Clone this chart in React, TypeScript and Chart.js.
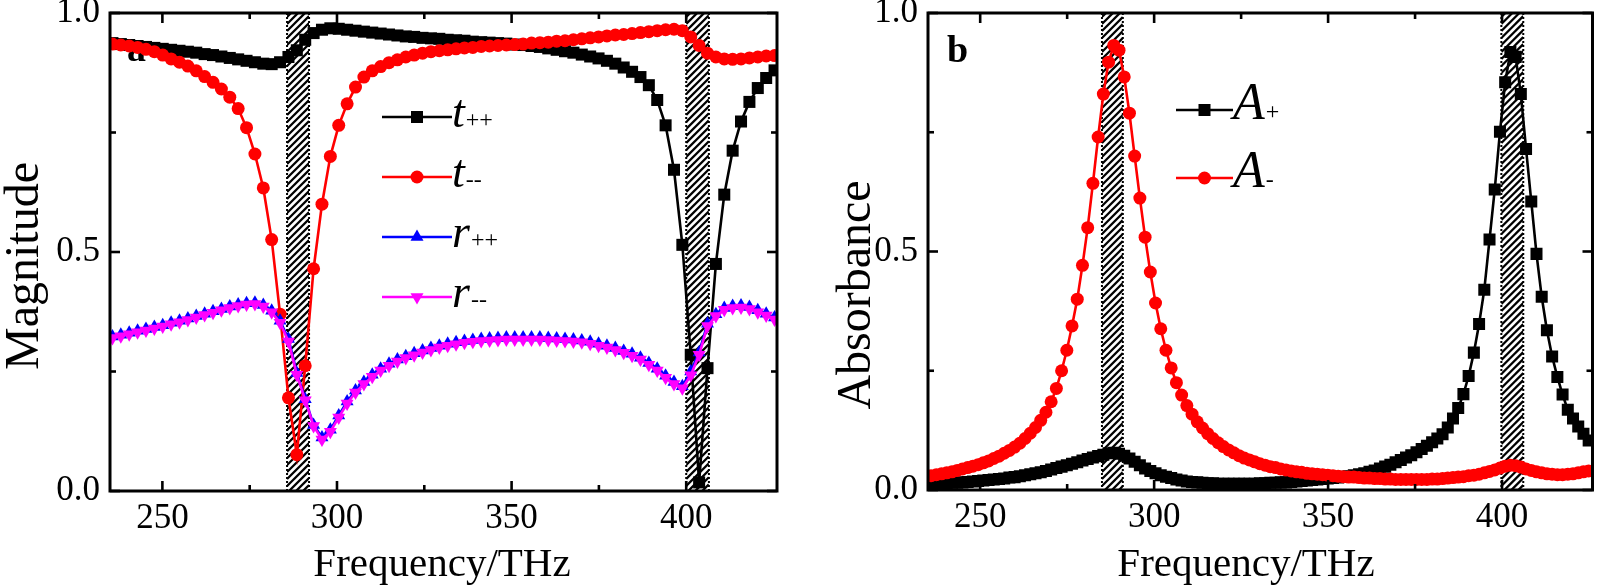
import React, { useEffect, useRef } from "react";
import { Chart, registerables } from "chart.js";

Chart.register(...registerables);

const FONT = "'Liberation Serif', 'Times New Roman', serif";

// ---------- Panel a: transmission / reflection magnitudes ----------
const freqA = [
  235.7, 238.1, 240.5, 242.9, 245.3, 247.7, 250.1, 252.5, 254.9, 257.3,
  259.7, 262.1, 264.5, 266.9, 269.3, 271.7, 274.1, 276.5, 278.9, 281.3,
  283.7, 286.1, 288.5, 290.9, 293.3, 295.7, 298.1, 300.5, 302.9, 305.3,
  307.7, 310.1, 312.5, 314.9, 317.3, 319.7, 322.1, 324.5, 326.9, 329.3,
  331.7, 334.1, 336.5, 338.9, 341.3, 343.7, 346.1, 348.5, 350.9, 353.3,
  355.7, 358.1, 360.5, 362.9, 365.3, 367.7, 370.1, 372.5, 374.9, 377.3,
  379.7, 382.1, 384.5, 386.9, 389.3, 391.7, 394.1, 396.5, 398.9, 401.3,
  403.7, 406.1, 408.5, 410.9, 413.3, 415.7, 418.1, 420.5, 422.9, 425.3,
];

const tPlusPlus = [
  0.937, 0.935, 0.933, 0.931, 0.929, 0.927, 0.925, 0.923, 0.921, 0.919,
  0.917, 0.914, 0.912, 0.909, 0.906, 0.903, 0.900, 0.897, 0.894, 0.893,
  0.897, 0.908, 0.922, 0.944, 0.958, 0.965, 0.968, 0.967, 0.965, 0.963,
  0.961, 0.959, 0.957, 0.955, 0.953, 0.951, 0.950, 0.948, 0.947, 0.946,
  0.944, 0.943, 0.942, 0.940, 0.939, 0.938, 0.937, 0.936, 0.934, 0.933,
  0.931, 0.929, 0.926, 0.923, 0.920, 0.917, 0.913, 0.909, 0.905, 0.900,
  0.894, 0.886, 0.877, 0.866, 0.849, 0.818, 0.765, 0.672, 0.515, 0.285,
  0.018, 0.257, 0.475, 0.620, 0.712, 0.773, 0.814, 0.843, 0.864, 0.880,
];

const tMinusMinus = [
  0.935, 0.933, 0.931, 0.928, 0.924, 0.919, 0.912, 0.904, 0.897, 0.889,
  0.879, 0.867, 0.855, 0.841, 0.824, 0.800, 0.760, 0.705, 0.634, 0.526,
  0.370, 0.195, 0.076, 0.262, 0.465, 0.600, 0.700, 0.765, 0.810, 0.845,
  0.866, 0.879, 0.888, 0.896, 0.902, 0.908, 0.912, 0.916, 0.919, 0.921,
  0.923, 0.925, 0.927, 0.928, 0.930, 0.931, 0.932, 0.933, 0.934, 0.935,
  0.937, 0.938, 0.939, 0.941, 0.942, 0.944, 0.946, 0.948, 0.950, 0.952,
  0.954, 0.955, 0.957, 0.959, 0.961, 0.963, 0.965, 0.966, 0.963, 0.950,
  0.932, 0.916, 0.908, 0.904, 0.903, 0.904, 0.906, 0.908, 0.910, 0.911,
];

const rPlusPlus = [
  0.323, 0.327, 0.331, 0.335, 0.339, 0.343, 0.347, 0.352, 0.356, 0.361,
  0.366, 0.371, 0.376, 0.381, 0.386, 0.390, 0.393, 0.394, 0.389, 0.377,
  0.356, 0.318, 0.247, 0.192, 0.138, 0.112, 0.128, 0.158, 0.187, 0.210,
  0.228, 0.243, 0.256, 0.266, 0.275, 0.282, 0.288, 0.294, 0.299, 0.304,
  0.308, 0.311, 0.314, 0.316, 0.318, 0.319, 0.320, 0.321, 0.321, 0.321,
  0.321, 0.321, 0.320, 0.319, 0.318, 0.317, 0.315, 0.312, 0.308, 0.304,
  0.299, 0.293, 0.287, 0.279, 0.268, 0.256, 0.241, 0.228, 0.219, 0.250,
  0.290, 0.350, 0.370, 0.383, 0.387, 0.388, 0.385, 0.378, 0.371, 0.363,
];

const rMinusMinus = [
  0.320, 0.324, 0.328, 0.332, 0.336, 0.340, 0.344, 0.349, 0.353, 0.358,
  0.363, 0.368, 0.373, 0.378, 0.383, 0.387, 0.390, 0.391, 0.386, 0.374,
  0.352, 0.313, 0.243, 0.190, 0.136, 0.108, 0.124, 0.154, 0.183, 0.206,
  0.224, 0.239, 0.252, 0.262, 0.271, 0.278, 0.284, 0.290, 0.295, 0.300,
  0.304, 0.307, 0.310, 0.312, 0.314, 0.315, 0.316, 0.317, 0.317, 0.317,
  0.317, 0.317, 0.316, 0.315, 0.314, 0.313, 0.311, 0.308, 0.304, 0.300,
  0.295, 0.289, 0.283, 0.275, 0.264, 0.252, 0.237, 0.224, 0.215, 0.242,
  0.285, 0.345, 0.366, 0.379, 0.383, 0.384, 0.381, 0.374, 0.367, 0.359,
];

// ---------- Panel b: absorbance ----------
const freqB = [
  235.9, 237.4, 238.9, 240.4, 241.9, 243.4, 244.9, 246.4, 247.9, 249.4,
  250.9, 252.4, 253.9, 255.4, 256.9, 258.4, 259.9, 261.4, 262.9, 264.4,
  265.9, 267.4, 268.9, 270.4, 271.9, 273.4, 274.9, 276.4, 277.9, 279.4,
  280.9, 282.4, 283.9, 285.4, 286.9, 288.4, 289.9, 291.4, 292.9, 294.4,
  295.9, 297.4, 298.9, 300.4, 301.9, 303.4, 304.9, 306.4, 307.9, 309.4,
  310.9, 312.4, 313.9, 315.4, 316.9, 318.4, 319.9, 321.4, 322.9, 324.4,
  325.9, 327.4, 328.9, 330.4, 331.9, 333.4, 334.9, 336.4, 337.9, 339.4,
  340.9, 342.4, 343.9, 345.4, 346.9, 348.4, 349.9, 351.4, 352.9, 354.4,
  355.9, 357.4, 358.9, 360.4, 361.9, 363.4, 364.9, 366.4, 367.9, 369.4,
  370.9, 372.4, 373.9, 375.4, 376.9, 378.4, 379.9, 381.4, 382.9, 384.4,
  385.9, 387.4, 388.9, 390.4, 391.9, 393.4, 394.9, 396.4, 397.9, 399.4,
  400.9, 402.4, 403.9, 405.4, 406.9, 408.4, 409.9, 411.4, 412.9, 414.4,
  415.9, 417.4, 418.9, 420.4, 421.9, 423.4, 424.9,
];

const absPlus = [
  0.012, 0.013, 0.013, 0.014, 0.015, 0.015, 0.016, 0.017, 0.018, 0.019,
  0.020, 0.021, 0.022, 0.023, 0.024, 0.026, 0.027, 0.029, 0.031, 0.033,
  0.035, 0.037, 0.040, 0.043, 0.046, 0.049, 0.052, 0.055, 0.058, 0.062,
  0.065, 0.068, 0.071, 0.074, 0.077, 0.078, 0.076, 0.072, 0.066, 0.059,
  0.052, 0.045, 0.040, 0.035, 0.031, 0.028, 0.025, 0.022, 0.020, 0.018,
  0.017, 0.016, 0.015, 0.014, 0.014, 0.013, 0.013, 0.013, 0.013, 0.013,
  0.013, 0.013, 0.013, 0.014, 0.014, 0.015, 0.015, 0.016, 0.016, 0.017,
  0.018, 0.019, 0.020, 0.021, 0.022, 0.023, 0.024, 0.025, 0.026, 0.028,
  0.029, 0.031, 0.033, 0.035, 0.038, 0.041, 0.045, 0.049, 0.053, 0.058,
  0.063, 0.068, 0.073, 0.079, 0.086, 0.093, 0.100, 0.108, 0.117, 0.131,
  0.150, 0.172, 0.201, 0.239, 0.288, 0.348, 0.420, 0.525, 0.630, 0.751,
  0.855, 0.918, 0.908, 0.830, 0.715, 0.605, 0.495, 0.405, 0.335, 0.280,
  0.237, 0.200, 0.168, 0.150, 0.133, 0.118, 0.104,
];

const absMinus = [
  0.030, 0.032, 0.034, 0.036, 0.038, 0.041, 0.044, 0.047, 0.050, 0.053,
  0.057, 0.061, 0.066, 0.071, 0.077, 0.083, 0.090, 0.098, 0.108, 0.119,
  0.131, 0.146, 0.163, 0.185, 0.213, 0.250, 0.293, 0.344, 0.400, 0.471,
  0.550, 0.643, 0.740, 0.830, 0.897, 0.932, 0.922, 0.866, 0.790, 0.700,
  0.612, 0.530, 0.457, 0.392, 0.338, 0.293, 0.256, 0.225, 0.199, 0.177,
  0.159, 0.143, 0.130, 0.118, 0.108, 0.099, 0.091, 0.084, 0.078, 0.072,
  0.067, 0.063, 0.059, 0.055, 0.052, 0.049, 0.047, 0.044, 0.042, 0.040,
  0.038, 0.037, 0.035, 0.034, 0.033, 0.032, 0.031, 0.030, 0.029, 0.028,
  0.027, 0.027, 0.026, 0.025, 0.025, 0.024, 0.024, 0.023, 0.023, 0.022,
  0.022, 0.022, 0.022, 0.022, 0.022, 0.022, 0.023, 0.023, 0.024, 0.025,
  0.026, 0.027, 0.028, 0.030, 0.031, 0.033, 0.036, 0.039, 0.042, 0.046,
  0.050, 0.052, 0.051, 0.048, 0.044, 0.041, 0.038, 0.036, 0.034, 0.033,
  0.032, 0.032, 0.033, 0.034, 0.036, 0.038, 0.040,
];

// ---------- axes / annotations ----------
const xRange = [235, 426];
const xMajorTicks = [250, 300, 350, 400];
const xMinorTicks = [275, 325, 375];
const yMajorTicks = [0, 0.5, 1];
const yMinorTicks = [0.25, 0.75];
const xTitle = "Frequency/THz";
const bandsA = [
  [285.7, 292.0],
  [400.0, 406.5],
];
const bandsB = [
  [285.0, 291.0],
  [399.8, 406.1],
];

type LegendEntry = {
  main: string;
  sub: string;
  color: string;
  style: "rect" | "circle" | "triangle";
  rotation: number;
  radius: number;
};

function drawMarker(
  ctx: CanvasRenderingContext2D,
  style: string,
  x: number,
  y: number,
  r: number,
  rotation: number,
  color: string
) {
  ctx.save();
  ctx.fillStyle = color;
  ctx.beginPath();
  if (style === "rect") {
    const s = Math.SQRT1_2 * r;
    ctx.rect(x - s, y - s, 2 * s, 2 * s);
  } else if (style === "circle") {
    ctx.arc(x, y, r, 0, Math.PI * 2);
  } else {
    let rad = (rotation * Math.PI) / 180;
    ctx.moveTo(x + Math.sin(rad) * r, y - Math.cos(rad) * r);
    rad += (2 * Math.PI) / 3;
    ctx.lineTo(x + Math.sin(rad) * r, y - Math.cos(rad) * r);
    rad += (2 * Math.PI) / 3;
    ctx.lineTo(x + Math.sin(rad) * r, y - Math.cos(rad) * r);
    ctx.closePath();
  }
  ctx.fill();
  ctx.restore();
}

type PanelSpec = {
  width: number;
  yAxisWidth: number;
  xAxisHeight: number;
  padTop: number;
  padRight: number;
  yTitle: string;
  yTitleX: number;
  yTitleY: number;
  xTitleX: number;
  xTitleY: number;
  bands: number[][];
  letter: string;
  letterX: number;
  letterY: number;
  legend: LegendEntry[];
  legendX1: number;
  legendX2: number;
  legendYs: number[];
  legendTextX: number;
  legendFont: number;
  legendBaseline: number;
  datasets: any[];
};

const X_TITLE_SIZE = 41;
const Y_TITLE_SIZE = 48;
const TICK_SIZE = 35;
const MARK_RECT = 8.5;
const MARK_CIRCLE = 6.5;
const MARK_TRI = 7.5;

function buildConfig(spec: PanelSpec): any {
  const annotPlugin = {
    id: "annot",
    beforeDatasetsDraw(chart: any) {
      const { ctx, chartArea } = chart;
      const { top, bottom } = chartArea;
      const xs = chart.scales.x;
      ctx.save();
      for (const [a, b] of spec.bands) {
        const x1 = xs.getPixelForValue(a);
        const x2 = xs.getPixelForValue(b);
        ctx.save();
        ctx.beginPath();
        ctx.rect(x1, top, x2 - x1, bottom - top);
        ctx.clip();
        ctx.strokeStyle = "#000";
        ctx.lineWidth = 2.3;
        const w = x2 - x1;
        for (let c = top - w - 10; c < bottom + w + 10; c += 7) {
          ctx.beginPath();
          ctx.moveTo(x1, c + w);
          ctx.lineTo(x2, c);
          ctx.stroke();
        }
        ctx.restore();
        ctx.save();
        ctx.strokeStyle = "#000";
        ctx.lineWidth = 2;
        ctx.setLineDash([2, 2]);
        for (const xx of [x1, x2]) {
          ctx.beginPath();
          ctx.moveTo(xx, top);
          ctx.lineTo(xx, bottom);
          ctx.stroke();
        }
        ctx.restore();
      }
      ctx.fillStyle = "#000";
      ctx.font = `bold 38px ${FONT}`;
      ctx.textAlign = "left";
      ctx.textBaseline = "alphabetic";
      ctx.fillText(spec.letter, spec.letterX, spec.letterY);
      ctx.restore();
    },
    afterDatasetsDraw(chart: any) {
      const { ctx, chartArea } = chart;
      const { left, right, top, bottom } = chartArea;
      const xs = chart.scales.x;
      const ys = chart.scales.y;
      ctx.save();
      ctx.strokeStyle = "#000";
      ctx.lineWidth = 3;
      ctx.strokeRect(left, top, right - left, bottom - top);
      ctx.lineWidth = 2.6;
      const tick = (x1: number, y1: number, x2: number, y2: number) => {
        ctx.beginPath();
        ctx.moveTo(x1, y1);
        ctx.lineTo(x2, y2);
        ctx.stroke();
      };
      for (const v of xMajorTicks) {
        const p = xs.getPixelForValue(v);
        tick(p, bottom, p, bottom - 10);
        tick(p, top, p, top + 10);
      }
      for (const v of xMinorTicks) {
        const p = xs.getPixelForValue(v);
        tick(p, bottom, p, bottom - 6);
        tick(p, top, p, top + 6);
      }
      for (const v of yMajorTicks) {
        const p = ys.getPixelForValue(v);
        tick(left, p, left + 10, p);
        tick(right, p, right - 10, p);
      }
      for (const v of yMinorTicks) {
        const p = ys.getPixelForValue(v);
        tick(left, p, left + 6, p);
        tick(right, p, right - 6, p);
      }
      ctx.restore();
    },
    afterDraw(chart: any) {
      const { ctx } = chart;
      ctx.save();
      // axis titles
      ctx.fillStyle = "#000";
      ctx.textAlign = "center";
      ctx.textBaseline = "alphabetic";
      ctx.font = `${X_TITLE_SIZE}px ${FONT}`;
      ctx.fillText(xTitle, spec.xTitleX, spec.xTitleY);
      ctx.font = `${Y_TITLE_SIZE}px ${FONT}`;
      ctx.save();
      ctx.translate(spec.yTitleX, spec.yTitleY);
      ctx.rotate(-Math.PI / 2);
      ctx.fillText(spec.yTitle, 0, 0);
      ctx.restore();
      // legend
      spec.legend.forEach((e, i) => {
        const y = spec.legendYs[i];
        ctx.strokeStyle = e.color;
        ctx.lineWidth = 2.6;
        ctx.beginPath();
        ctx.moveTo(spec.legendX1, y);
        ctx.lineTo(spec.legendX2, y);
        ctx.stroke();
        drawMarker(ctx, e.style, (spec.legendX1 + spec.legendX2) / 2, y, e.radius, e.rotation, e.color);
        ctx.fillStyle = "#000";
        ctx.textAlign = "left";
        ctx.textBaseline = "alphabetic";
        ctx.font = `italic ${spec.legendFont}px ${FONT}`;
        const base = y + spec.legendBaseline;
        ctx.fillText(e.main, spec.legendTextX, base);
        const w = ctx.measureText(e.main).width;
        ctx.font = `24px ${FONT}`;
        ctx.fillText(e.sub, spec.legendTextX + w + 1, base);
      });
      ctx.restore();
    },
  };

  return {
    type: "line",
    data: { datasets: spec.datasets },
    plugins: [annotPlugin],
    options: {
      animation: false,
      responsive: false,
      devicePixelRatio: 1,
      events: [],
      layout: { padding: { top: spec.padTop, right: spec.padRight, left: 0, bottom: 0 } },
      plugins: { legend: { display: false }, tooltip: { enabled: false } },
      scales: {
        x: {
          type: "linear",
          min: xRange[0],
          max: xRange[1],
          grid: { display: false, drawTicks: false },
          border: { display: false },
          ticks: {
            stepSize: 50,
            includeBounds: false,
            autoSkip: false,
            maxRotation: 0,
            color: "#000",
            padding: 7,
            font: { family: FONT, size: TICK_SIZE },
          },
          title: { display: false },
          afterFit: (s: any) => {
            s.height = spec.xAxisHeight;
            s.paddingLeft = 0;
            s.paddingRight = 0;
          },
        },
        y: {
          min: 0,
          max: 1,
          grid: { display: false, drawTicks: false },
          border: { display: false },
          ticks: {
            stepSize: 0.5,
            color: "#000",
            padding: 10,
            font: { family: FONT, size: TICK_SIZE },
            callback: (v: any) => Number(v).toFixed(1),
          },
          title: { display: false },
          afterFit: (s: any) => {
            s.width = spec.yAxisWidth;
            s.paddingTop = 0;
            s.paddingBottom = 0;
          },
        },
      },
    },
  };
}

function series(xs: number[], ys: number[], color: string, style: string, radius: number, rotation: number, order: number) {
  return {
    data: xs.map((x, i) => ({ x, y: ys[i] })),
    borderColor: color,
    backgroundColor: color,
    borderWidth: 2.6,
    pointStyle: style,
    pointRadius: radius,
    pointRotation: rotation,
    pointBackgroundColor: color,
    pointBorderColor: color,
    pointBorderWidth: 0,
    tension: 0,
    order,
  };
}

function specA(): PanelSpec {
  return {
    width: 800,
    yAxisWidth: 110,
    xAxisHeight: 97,
    padTop: 13,
    padRight: 23,
    yTitle: "Magnitude",
    yTitleX: 38,
    yTitleY: 266,
    xTitleX: 442,
    xTitleY: 576,
    bands: bandsA,
    letter: "a",
    letterX: 127,
    letterY: 61,
    legend: [
      { main: "t", sub: "++", color: "#000000", style: "rect", rotation: 0, radius: MARK_RECT },
      { main: "t", sub: "--", color: "#ff0000", style: "circle", rotation: 0, radius: MARK_CIRCLE },
      { main: "r", sub: "++", color: "#0000ff", style: "triangle", rotation: 0, radius: MARK_TRI },
      { main: "r", sub: "--", color: "#ff00ff", style: "triangle", rotation: 180, radius: MARK_TRI },
    ],
    legendX1: 382,
    legendX2: 452,
    legendYs: [117, 177, 237, 297],
    legendTextX: 452,
    legendFont: 46,
    legendBaseline: 10,
    datasets: [
      series(freqA, tPlusPlus, "#000000", "rect", MARK_RECT, 0, 3),
      series(freqA, tMinusMinus, "#ff0000", "circle", MARK_CIRCLE, 0, 2),
      series(freqA, rPlusPlus, "#0000ff", "triangle", MARK_TRI, 0, 1),
      series(freqA, rMinusMinus, "#ff00ff", "triangle", MARK_TRI, 180, 0),
    ],
  };
}

function specB(): PanelSpec {
  return {
    width: 801,
    yAxisWidth: 128,
    xAxisHeight: 98,
    padTop: 13,
    padRight: 4,
    yTitle: "Absorbance",
    yTitleX: 70,
    yTitleY: 295,
    xTitleX: 446,
    xTitleY: 576,
    bands: bandsB,
    letter: "b",
    letterX: 147,
    letterY: 62,
    legend: [
      { main: "A", sub: "+", color: "#000000", style: "rect", rotation: 0, radius: MARK_RECT },
      { main: "A", sub: "-", color: "#ff0000", style: "circle", rotation: 0, radius: MARK_CIRCLE },
    ],
    legendX1: 376,
    legendX2: 433,
    legendYs: [110, 178],
    legendTextX: 433,
    legendFont: 52,
    legendBaseline: 9,
    datasets: [
      series(freqB, absPlus, "#000000", "rect", MARK_RECT, 0, 1),
      series(freqB, absMinus, "#ff0000", "circle", MARK_CIRCLE, 0, 0),
    ],
  };
}

function Panel({ make, left }: { make: () => PanelSpec; left: number }) {
  const ref = useRef<HTMLCanvasElement | null>(null);
  const spec = make();
  useEffect(() => {
    if (!ref.current) return;
    const chart = new Chart(ref.current, buildConfig(make()));
    return () => chart.destroy();
  }, []);
  return (
    <canvas
      ref={ref}
      width={spec.width}
      height={588}
      style={{ position: "absolute", left, top: 0, width: spec.width, height: 588 }}
    />
  );
}

export default function App() {
  return (
    <div
      style={{
        position: "absolute",
        left: 0,
        top: 0,
        width: 1601,
        height: 588,
        background: "#ffffff",
        overflow: "hidden",
      }}
    >
      <Panel make={specA} left={0} />
      <Panel make={specB} left={800} />
    </div>
  );
}
